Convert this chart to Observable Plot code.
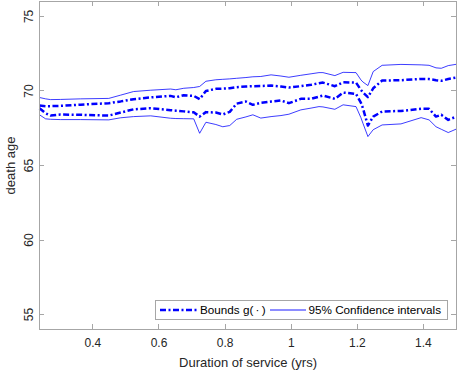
<!DOCTYPE html>
<html><head><meta charset="utf-8">
<script src="https://cdn.jsdelivr.net/npm/d3@7"></script>
<script src="https://cdn.jsdelivr.net/npm/@observablehq/plot@0.6"></script>
<style>
html,body{margin:0;padding:0;background:#fff;}
svg{display:block;font-family:"Liberation Sans",Arial,Helvetica,sans-serif;}
</style></head>
<body><div id="chart"></div>
<script>
const xTicks = [0.4, 0.6, 0.8, 1, 1.2, 1.4];
const yTicks = [55, 60, 65, 70, 75];
const duration = [0.2385,0.257,0.272,0.302,0.363,0.448,0.484,0.523,0.575,0.635,0.651,0.675,0.705,0.723,0.742,0.772,0.793,0.814,0.835,0.863,0.884,0.908,0.939,0.969,0.993,1.029,1.060,1.084,1.096,1.132,1.157,1.196,1.211,1.217,1.232,1.248,1.275,1.332,1.393,1.417,1.438,1.454,1.475,1.500];
const ciUpper = [69.56,69.47,69.42,69.43,69.47,69.5,69.72,69.96,70.05,70.13,70.08,70.18,70.23,70.3,70.65,70.75,70.78,70.81,70.85,70.9,70.95,70.97,71.08,71.0,70.92,71.05,71.15,71.23,71.23,71.03,71.25,71.23,70.74,70.6,70.36,71.3,71.72,71.78,71.75,71.72,71.55,71.52,71.7,71.79];
const boundUpper = [69.02,68.98,68.98,69.0,69.08,69.18,69.3,69.45,69.57,69.67,69.58,69.71,69.67,69.45,70.0,70.14,70.16,70.18,70.25,70.3,70.32,70.33,70.36,70.3,70.23,70.32,70.41,70.52,70.56,70.32,70.58,70.56,70.07,69.9,69.58,70.18,70.7,70.72,70.81,70.8,70.72,70.68,70.8,70.9];
const boundLower = [68.84,68.5,68.35,68.42,68.4,68.35,68.55,68.77,68.84,68.71,68.68,68.63,68.57,68.28,68.58,68.55,68.42,68.6,69.15,69.29,69.07,69.2,69.29,69.36,69.18,69.47,69.47,69.62,69.69,69.47,69.89,69.8,69.2,68.84,67.68,68.28,68.62,68.66,68.8,68.8,68.28,68.4,68.06,68.28];
const ciLower = [68.4,68.13,68.1,68.08,68.08,68.06,68.2,68.28,68.33,68.17,68.15,68.14,68.13,67.16,67.9,67.75,67.6,67.68,68.1,68.26,68.4,68.18,68.28,68.35,68.44,68.73,68.85,68.95,68.93,68.77,69.07,68.95,68.2,67.83,66.94,67.4,67.72,67.79,68.21,68.06,67.6,67.43,67.21,67.45];
const legendLabels = ["Bounds g(\u2009\u00b7\u2009)", "95% Confidence intervals"];

const rows = (ys, name) => duration.map((d, i) => ({x: d, y: ys[i], s: name}));
const bounds = [...rows(boundUpper, "bu"), ...rows(boundLower, "bl")];
const cis = [...rows(ciUpper, "cu"), ...rows(ciLower, "cl")];

const W = 459, H = 370;
const BLUE = "#0000ff";
const DASH = "6,2.5,2,2.5";
const FONT = '"Liberation Sans",Arial,Helvetica,sans-serif';

const plot = Plot.plot({
  width: W, height: H,
  marginLeft: 39, marginRight: 3, marginTop: 1, marginBottom: 41,
  style: {fontFamily: FONT, background: "#fff"},
  x: {domain: [0.2385, 1.5], axis: null},
  y: {domain: [54, 76], axis: null},
  marks: [
    Plot.line(cis, {x: "x", y: "y", z: "s", stroke: BLUE, strokeWidth: 0.9, strokeOpacity: 0.85}),
    Plot.line(bounds, {x: "x", y: "y", z: "s", stroke: BLUE, strokeWidth: 2.5, strokeDasharray: DASH, strokeLinecap: "butt", strokeLinejoin: "round"}),
    Plot.frame({stroke: "#a6a6a6", strokeWidth: 1}),
    Plot.text(xTicks, {x: d => d, frameAnchor: "bottom", dy: 14, text: d => String(d), fontSize: 12, fill: "#262626", lineAnchor: "middle"}),
    Plot.text(yTicks, {y: d => d, frameAnchor: "left", dx: -10, rotate: -90, text: d => String(d), fontSize: 12, fill: "#262626", textAnchor: "middle"}),
    Plot.text(["Duration of service (yrs)"], {frameAnchor: "bottom", dy: 33, text: d => d, fontSize: 13, fill: "#262626", lineAnchor: "middle"}),
    Plot.text(["death age"], {frameAnchor: "left", dx: -29, rotate: -90, text: d => d, fontSize: 13, fill: "#262626", textAnchor: "middle"})
  ]
});

const sx = plot.scale("x"), sy = plot.scale("y");
const svg = d3.select(plot);
const fx0 = sx.range[0], fx1 = sx.range[1];
const fy0 = sy.range[0], fy1 = sy.range[1]; // bottom, top
const tl = 5;
const g = svg.append("g").attr("stroke", "#a6a6a6").attr("stroke-width", 1);
for (const t of xTicks) {
  const px = Math.round(sx.apply(t)) + 0.5;
  g.append("line").attr("x1", px).attr("x2", px).attr("y1", fy0).attr("y2", fy0 - tl);
  g.append("line").attr("x1", px).attr("x2", px).attr("y1", fy1).attr("y2", fy1 + tl);
}
for (const t of yTicks) {
  const py = Math.round(sy.apply(t)) + 0.5;
  g.append("line").attr("x1", fx0).attr("x2", fx0 + tl).attr("y1", py).attr("y2", py);
  g.append("line").attr("x1", fx1).attr("x2", fx1 - tl).attr("y1", py).attr("y2", py);
}

// legend
const lg = svg.append("g").attr("font-size", 11.7).attr("fill", "#000")
  .attr("text-anchor", "start").attr("font-family", FONT);
const lx = 155.5, ly = 300.5, lw = 292, lh = 19;
lg.append("rect").attr("x", lx).attr("y", ly).attr("width", lw).attr("height", lh)
  .attr("fill", "#fff").attr("stroke", "#a6a6a6");
const cy = ly + lh / 2;
lg.append("line").attr("x1", 160).attr("x2", 197).attr("y1", cy).attr("y2", cy)
  .attr("stroke", BLUE).attr("stroke-width", 2.5).attr("stroke-dasharray", DASH);
lg.append("text").attr("x", 200).attr("y", cy).attr("dy", "0.35em").attr("text-anchor", "start").text(legendLabels[0]);
lg.append("line").attr("x1", 270).attr("x2", 306).attr("y1", cy).attr("y2", cy)
  .attr("stroke", BLUE).attr("stroke-width", 0.9);
lg.append("text").attr("x", 308.5).attr("y", cy).attr("dy", "0.35em").attr("text-anchor", "start").text(legendLabels[1]);

document.getElementById("chart").appendChild(plot);
</script></body></html>
